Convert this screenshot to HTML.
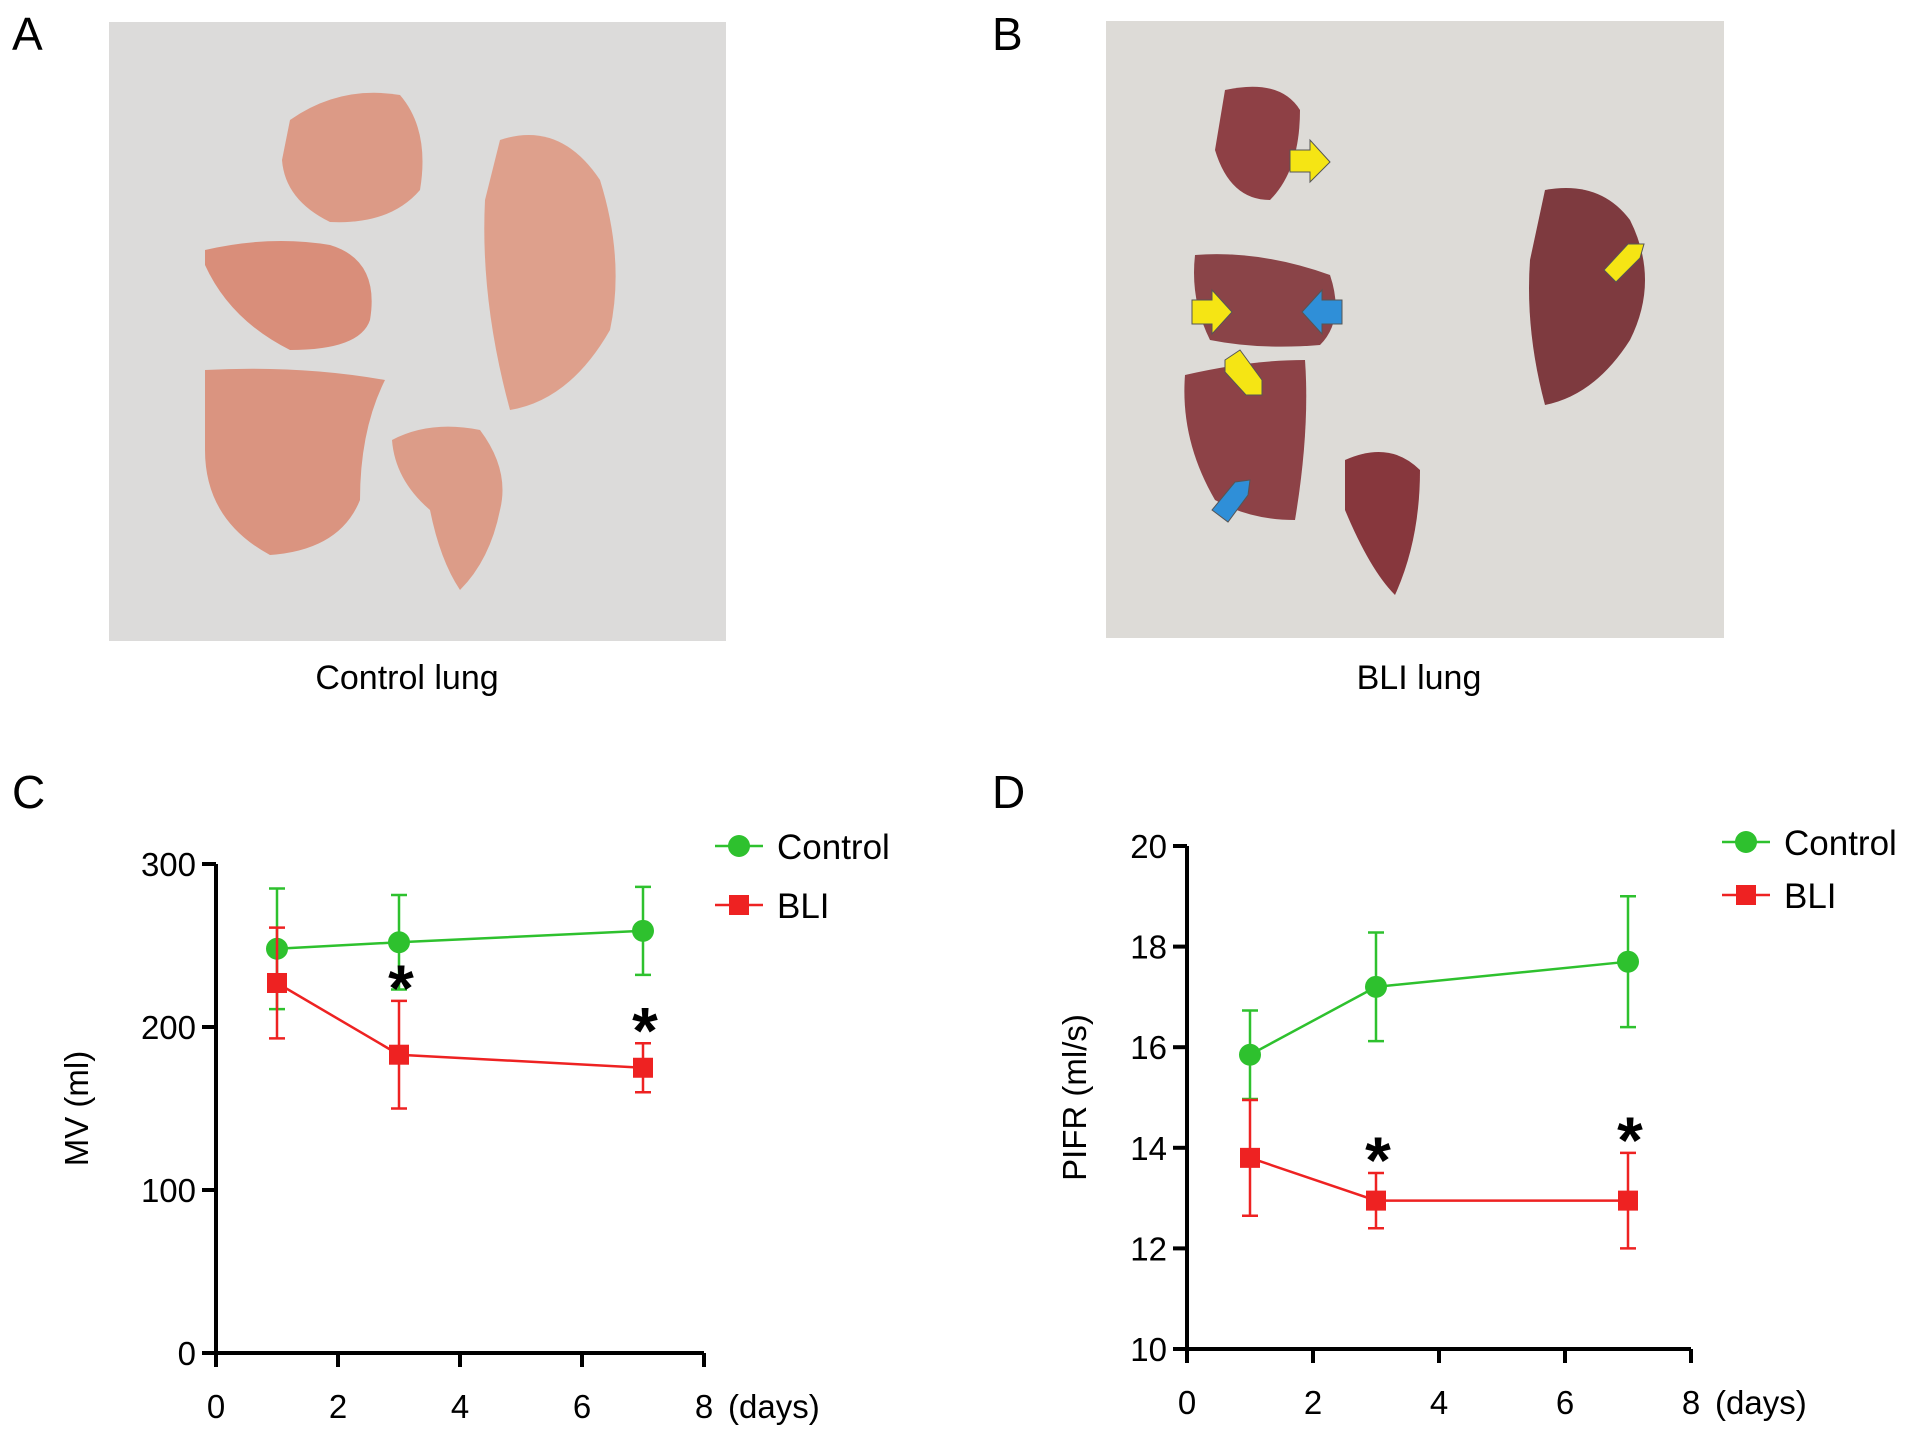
<!DOCTYPE html>
<html><head><meta charset="utf-8">
<style>
html,body{margin:0;padding:0;background:#fff;}
svg{display:block;font-family:"Liberation Sans",Arial,sans-serif;}
</style></head>
<body>
<svg id="fig" width="1913" height="1437" viewBox="0 0 1913 1437" xmlns="http://www.w3.org/2000/svg">
  <rect width="1913" height="1437" fill="#fff"/>
  <text x="12" y="50" font-size="46">A</text>
  <text x="992" y="50" font-size="46">B</text>
  <text x="12" y="808" font-size="46">C</text>
  <text x="992" y="808" font-size="46">D</text>

  <g>
    <rect x="109" y="22" width="617" height="619" fill="#dcdbda"/>
    <path d="M290 120 Q340 85 400 95 Q430 130 420 190 Q390 225 330 222 Q285 200 282 160Z" fill="#dc9a86"/>
    <path d="M205 250 Q270 235 330 245 Q380 260 370 320 Q360 350 290 350 Q230 320 205 265Z" fill="#d98e7a"/>
    <path d="M500 140 Q560 120 600 180 Q625 260 610 330 Q570 400 510 410 Q480 300 485 200Z" fill="#deA08c"/>
    <path d="M205 370 Q300 365 385 380 Q360 430 360 500 Q340 550 270 555 Q205 520 205 450Z" fill="#da9480"/>
    <path d="M392 440 Q430 420 480 430 Q510 470 500 510 Q490 560 460 590 Q440 560 430 510 Q395 480 392 440Z" fill="#dc9c88"/>
  </g>
  <g>
    <rect x="1106" y="21" width="618" height="617" fill="#dddbd7"/>
    <path d="M1225 90 Q1280 78 1300 110 Q1300 170 1270 200 Q1230 200 1215 150Z" fill="#8e4045"/>
    <path d="M1195 255 Q1260 250 1330 275 Q1345 320 1320 345 Q1260 350 1210 340 Q1190 300 1195 255Z" fill="#8a4448"/>
    <path d="M1185 375 Q1250 360 1305 360 Q1310 430 1295 520 Q1250 520 1215 500 Q1180 440 1185 375Z" fill="#8d4247"/>
    <path d="M1345 460 Q1390 440 1420 470 Q1420 540 1395 595 Q1370 570 1345 510Z" fill="#87373d"/>
    <path d="M1545 190 Q1600 180 1630 220 Q1660 280 1630 340 Q1595 395 1545 405 Q1525 330 1530 260Z" fill="#7e3a3f"/>
    <polygon points="1290,150 1310,150 1310,140 1330,162 1310,182 1310,172 1290,172" fill="#f5e514" stroke="#555" stroke-width="1"/>
    <polygon points="1192,300 1212,300 1212,290 1232,312 1212,334 1212,324 1192,324" fill="#f5e514" stroke="#555" stroke-width="1"/>
    <polygon points="1342,300 1322,300 1322,290 1302,312 1322,334 1322,324 1342,324" fill="#2f8fd8" stroke="#555" stroke-width="1"/>
    <polygon points="1225,360 1240,350 1262,380 1262,395 1246,395 1225,372" fill="#f5e514" stroke="#555" stroke-width="1"/>
    <polygon points="1212,510 1228,522 1248,495 1250,480 1235,482 1212,510" fill="#2f8fd8" stroke="#555" stroke-width="1"/>
    <polygon points="1604,270 1616,282 1640,258 1644,244 1628,244 1604,270" fill="#f5e514" stroke="#555" stroke-width="1"/>
  </g>
  <text x="407" y="689" font-size="34" text-anchor="middle">Control lung</text>
  <text x="1419" y="689" font-size="34" text-anchor="middle">BLI lung</text>
  <g id="chartC"></g>
  <g id="chartD"></g>
</svg>
<script>
const days = [1, 3, 7];
const xTicks = [0, 2, 4, 6, 8];
const mvControl = [248, 252, 259];
const mvControlErr = [37, 29, 27];
const mvBLI = [227, 183, 175];
const mvBLIErr = [34, 33, 15];
const mvTicks = [0, 100, 200, 300];
const mvStars = [false, true, true];
const pifrControl = [15.85, 17.2, 17.7];
const pifrControlErr = [0.88, 1.08, 1.3];
const pifrBLI = [13.8, 12.95, 12.95];
const pifrBLIErr = [1.15, 0.55, 0.95];
const pifrTicks = [10, 12, 14, 16, 18, 20];
const pifrStars = [false, true, true];

const NS = 'http://www.w3.org/2000/svg';
function mk(parent, tag, attrs, text) {
  const e = document.createElementNS(NS, tag);
  for (const k in attrs) e.setAttribute(k, attrs[k]);
  if (text !== undefined) e.textContent = text;
  parent.appendChild(e);
  return e;
}
function drawChart(g, o) {
  const sx = v => o.x0 + (v - 0) / 8 * (o.x1 - o.x0);
  const sy = v => o.y0 - (v - o.ymin) / (o.ymax - o.ymin) * (o.y0 - o.y1);
  const ax = mk(g, 'path', {d: `M${o.x0} ${sy(o.ymax)} V${o.y0} H${o.x1}`, stroke: '#000', 'stroke-width': 4, fill: 'none'});
  
  
  o.yt.forEach(t => {
    mk(g, 'line', {x1: o.x0 - 14, x2: o.x0, y1: sy(t), y2: sy(t), stroke: '#000', 'stroke-width': 4});
    const lb = mk(g, 'text', {x: o.x0 - 20, y: sy(t) + 12, 'font-size': 33, 'text-anchor': 'end'}, String(t));
    
    
  });
  xTicks.forEach(t => {
    mk(g, 'line', {x1: sx(t), x2: sx(t), y1: o.y0, y2: o.y0 + 14, stroke: '#000', 'stroke-width': 4});
    const lb = mk(g, 'text', {x: sx(t), y: o.y0 + 65, 'font-size': 33, 'text-anchor': 'middle'}, String(t));
    
    
  });
  const du = mk(g, 'text', {x: sx(8) + 24, y: o.y0 + 65, 'font-size': 33}, '(days)');
  
  
  const yt = mk(g, 'text', {transform: `translate(${o.ytx},${(o.y0 + sy(o.ymax)) / 2}) rotate(-90)`, 'font-size': 33, 'text-anchor': 'middle'}, o.ytitle);
  
  
  const series = [
    {v: o.c, e: o.ce, col: '#2ec12e', shape: 'circle', name: 'control'},
    {v: o.b, e: o.be, col: '#ee2222', shape: 'square', name: 'bli'}
  ];
  series.forEach(s => {
    const sg = mk(g, 'g', {});
    
    
    mk(sg, 'polyline', {points: days.map((d, i) => sx(d) + ',' + sy(s.v[i])).join(' '), fill: 'none', stroke: s.col, 'stroke-width': 2.5});
    days.forEach((d, i) => {
      const x = sx(d), yt2 = sy(s.v[i] + s.e[i]), yb = sy(s.v[i] - s.e[i]);
      mk(sg, 'path', {d: `M${x} ${yt2} V${yb} M${x - 8} ${yt2} H${x + 8} M${x - 8} ${yb} H${x + 8}`, stroke: s.col, 'stroke-width': 2.5, fill: 'none'});
      let m;
      if (s.shape === 'circle') m = mk(sg, 'circle', {cx: x, cy: sy(s.v[i]), r: 11, fill: s.col});
      else m = mk(sg, 'rect', {x: x - 10, y: sy(s.v[i]) - 10, width: 20, height: 20, fill: s.col});
      
      
    });
  });
  days.forEach((d, i) => {
    if (!o.stars[i]) return;
    const st = mk(g, 'text', {x: sx(d) + 2, y: sy(o.b[i] + o.be[i]) + 10, 'font-size': 66, 'font-weight': 'bold', 'text-anchor': 'middle'}, '*');
    
    
  });
  const lg = mk(g, 'g', {});
  
  
  mk(lg, 'line', {x1: o.lx - 24, x2: o.lx + 24, y1: o.ly, y2: o.ly, stroke: '#2ec12e', 'stroke-width': 2.5});
  mk(lg, 'circle', {cx: o.lx, cy: o.ly, r: 11, fill: '#2ec12e'});
  const l1 = mk(lg, 'text', {x: o.lx + 38, y: o.ly + 13, 'font-size': 35}, 'Control');
  
  
  mk(lg, 'line', {x1: o.lx - 24, x2: o.lx + 24, y1: o.ly + o.lgap, y2: o.ly + o.lgap, stroke: '#ee2222', 'stroke-width': 2.5});
  mk(lg, 'rect', {x: o.lx - 10, y: o.ly + o.lgap - 10, width: 20, height: 20, fill: '#ee2222'});
  const l2 = mk(lg, 'text', {x: o.lx + 38, y: o.ly + o.lgap + 13, 'font-size': 35}, 'BLI');
  
  
}
drawChart(document.getElementById('chartC'), {
  x0: 216, x1: 704, y0: 1353, y1: 864, ymin: 0, ymax: 300, yt: mvTicks,
  c: mvControl, ce: mvControlErr, b: mvBLI, be: mvBLIErr, stars: mvStars,
  ytitle: 'MV (ml)', ytx: 88, lx: 739, ly: 846, lgap: 59
});
drawChart(document.getElementById('chartD'), {
  x0: 1187, x1: 1691, y0: 1349, y1: 846, ymin: 10, ymax: 20, yt: pifrTicks,
  c: pifrControl, ce: pifrControlErr, b: pifrBLI, be: pifrBLIErr, stars: pifrStars,
  ytitle: 'PIFR (ml/s)', ytx: 1086, lx: 1746, ly: 842, lgap: 53
});
</script>
</body></html>
